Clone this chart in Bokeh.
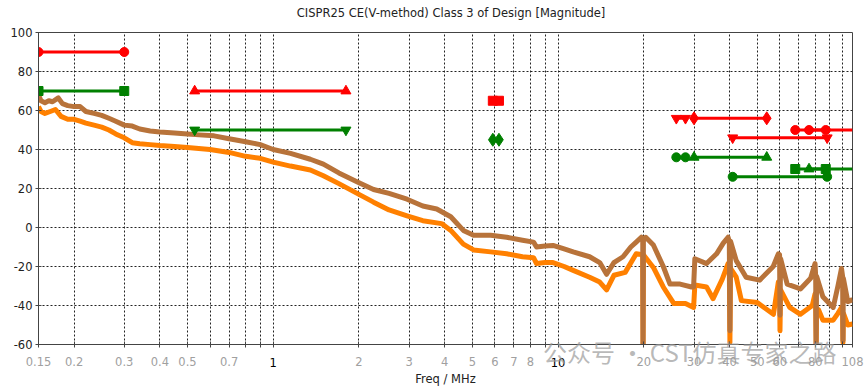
from bokeh.plotting import figure
from bokeh.models import (FixedTicker, ColumnDataSource, Range1d, CustomJSTickFormatter, LogAxis)
from bokeh.embed import file_html
from bokeh.resources import INLINE

title_text = ["CISPR25 CE(V-method) Class 3 of Design [Magnitude]"]
title_pos = [4.21]
x_label = "Freq / MHz"
watermark_text = ["公众号 · CST仿真专家之路"]
watermark_pos = [29.0]

# x ticks (all grid positions) and their labels ("" = unlabeled)
x_ticks = [0.15, 0.2, 0.3, 0.4, 0.5, 0.6, 0.7, 0.8, 0.9, 1, 2, 3, 4, 5, 6, 7, 8, 9,
           10, 20, 30, 40, 50, 60, 70, 80, 90, 100, 108]
x_tick_labels = ["0.15", "0.2", "0.3", "0.4", "0.5", "", "0.7", "", "", "", "2", "3", "4", "5",
                 "6", "7", "8", "", "", "20", "30", "40", "50", "60", "", "80", "", "", "108"]
# decade labels drawn dark
x_dark_pos = [1, 10]
x_dark_labels = ["1", "10"]
y_ticks = [-60, -40, -20, 0, 20, 40, 60, 80, 100]

# Peak (brown) curve
peak_f = [0.150, 0.153, 0.158, 0.163, 0.168, 0.176, 0.182, 0.19, 0.20, 0.21, 0.22, 0.235, 0.25,
          0.265, 0.28, 0.30, 0.32, 0.34, 0.37, 0.40, 0.45, 0.50, 0.55, 0.62, 0.70, 0.80, 0.90,
          1.00, 1.15, 1.35, 1.50, 1.70, 2.00, 2.25, 2.55, 2.95, 3.35, 3.75, 4.20, 4.65, 5.05,
          5.80, 6.60, 7.50, 8.20, 8.40, 9.00, 9.60, 10.5, 11.3, 12.9, 14.0, 14.8, 15.7, 16.9,
          18.0, 18.8, 19.6, 19.82, 19.87, 19.93, 20.3, 21.6, 23.4, 24.7, 26.8, 29.4, 29.9, 30.2,
          33.2, 36.0, 38.0, 39.5, 39.9, 40.1, 40.3, 42.2, 45.7, 51.0, 56.9, 59.3, 59.9, 60.1,
          60.4, 63.7, 70.9, 77.0, 79.8, 80.2, 80.5, 80.8, 85.0, 92.4, 96.0, 98.8, 99.7, 100.0,
          100.3, 104.0, 108.0]
peak_db = [68.0, 65.0, 64.0, 65.0, 64.5, 66.5, 63.5, 62.5, 62.0, 62.0, 59.5, 58.5, 57.5,
           56.0, 54.5, 52.5, 52.0, 50.5, 49.5, 49.0, 48.5, 48.0, 47.5, 47.0, 45.5, 44.0, 42.5,
           40.0, 38.0, 35.0, 32.5, 28.0, 23.0, 19.5, 17.5, 14.5, 11.0, 9.5, 5.5, -1.5, -4.0,
           -4.0, -5.0, -6.5, -7.5, -10.0, -9.5, -9.2, -11.0, -12.5, -15.0, -18.0, -24.0, -18.0, -15.0,
           -10.0, -7.5, -5.0, -6.0, -60.0, -6.0, -5.0, -9.0, -20.0, -29.0, -29.0, -30.5, -30.5, -16.0,
           -18.5, -13.5, -8.0, -5.0, -7.0, -53.0, -7.0, -17.0, -25.5, -27.0, -20.0, -13.5, -14.0, -45.0,
           -16.0, -29.0, -31.5, -26.0, -18.5, -25.0, -60.0, -25.0, -35.5, -41.0, -30.0, -21.0, -25.0, -58.0,
           -26.0, -38.0, -37.0]

# Average (orange) curve
avg_f = [0.150, 0.153, 0.158, 0.165, 0.172, 0.180, 0.19, 0.20, 0.21, 0.22, 0.235, 0.25, 0.265,
         0.28, 0.30, 0.32, 0.34, 0.37, 0.40, 0.45, 0.50, 0.60, 0.70, 0.80, 0.90, 1.00, 1.15,
         1.35, 1.50, 1.70, 2.00, 2.25, 2.55, 2.95, 3.35, 3.90, 4.20, 4.65, 5.05, 5.80, 6.60,
         7.50, 8.20, 8.40, 9.00, 9.60, 10.5, 11.3, 12.9, 14.0, 14.8, 15.7, 17.2, 18.8, 19.82,
         19.87, 19.93, 21.6, 23.4, 25.5, 28.0, 29.9, 30.2, 33.2, 35.0, 37.7, 39.5, 39.9, 40.1,
         40.3, 42.2, 44.0, 50.0, 57.0, 59.3, 59.9, 60.1, 60.4, 65.0, 70.9, 78.0, 79.8, 80.2,
         80.5, 80.8, 82.0, 85.0, 92.4, 96.0, 98.8, 99.7, 100.0, 100.3, 101.0, 104.0, 108.0]
avg_db = [62.0, 59.5, 58.5, 59.5, 60.5, 57.0, 55.5, 55.5, 54.5, 53.5, 52.5, 51.5, 50.0,
          48.0, 46.0, 43.5, 43.0, 42.5, 42.0, 41.5, 41.0, 40.0, 38.5, 36.5, 35.5, 33.5, 31.5,
          29.5, 26.5, 22.5, 17.0, 13.0, 9.0, 6.0, 3.5, 2.0, -1.5, -8.5, -11.5, -12.5, -13.5,
          -15.0, -15.5, -18.5, -18.0, -18.0, -20.0, -22.0, -25.5, -28.0, -32.0, -24.5, -23.0, -13.5, -14.0,
          -60.0, -14.0, -20.5, -30.5, -39.0, -39.0, -41.0, -29.5, -30.5, -36.5, -26.5, -18.5, -20.0, -59.0,
          -21.0, -25.5, -37.5, -38.5, -44.5, -28.0, -30.0, -53.0, -32.0, -41.0, -44.5, -40.0, -34.0, -40.0,
          -60.0, -42.0, -42.0, -47.5, -47.5, -44.0, -41.0, -44.0, -59.0, -44.0, -45.0, -50.0, -49.5]

# CISPR 25 Class 3 limit bands
band_start = [0.15, 0.53, 5.9, 26, 30, 41, 68, 76]
band_stop = [0.30, 1.8, 6.2, 28, 54, 88, 87, 108]
peak_limit = [90, 70, 65, 56, 56, 46, 50, 50]
avg_limit = [70, 50, 45, 36, 36, 26, 30, 30]
peak_marker = ["circle", "triangle", "square", "inverted_triangle", "diamond",
               "inverted_triangle", "circle", "circle"]
avg_marker = ["square", "inverted_triangle", "diamond", "circle", "triangle",
              "circle", "square", "triangle"]

marker_size = {"circle": 9, "square": 9, "triangle": 10, "inverted_triangle": 10, "diamond": 13}

X_MIN, X_MAX = 0.15, 108
FONT = "DejaVu Sans"
FS = "11.5px"

LOOKUP = """
for (let i = 0; i < vals.length; i++) {
  if (Math.abs(vals[i] - tick) < 1e-6 * Math.max(1, Math.abs(tick))) return labs[i];
}
return "";
"""


def label_axis(pos, labels, standoff, **kw):
    return LogAxis(ticker=FixedTicker(ticks=pos),
                   formatter=CustomJSTickFormatter(args=dict(vals=pos, labs=labels), code=LOOKUP),
                   axis_line_color=None, major_tick_line_color=None, minor_tick_line_color=None,
                   major_tick_in=0, major_tick_out=0, major_label_standoff=standoff, **kw)


p = figure(width=865, height=389, x_axis_type="log",
           x_range=Range1d(X_MIN, X_MAX), y_range=Range1d(-60, 100),
           output_backend="svg", toolbar_location=None,
           min_border_left=38, min_border_right=13, min_border_top=32, min_border_bottom=45)
p.background_fill_color = "white"
p.border_fill_color = "white"
p.outline_line_color = "#444444"
p.outline_line_width = 1

# main axes (grab them before any extra axes are added)
ax1 = p.below[0]
ay = p.left[0]
ax1.ticker = FixedTicker(ticks=x_ticks)
ax1.formatter = CustomJSTickFormatter(args=dict(vals=x_ticks, labs=x_tick_labels), code=LOOKUP)
ay.ticker = FixedTicker(ticks=y_ticks)
ay.formatter = CustomJSTickFormatter(code="return tick.toFixed(0);")
for ax in (ax1, ay):
    ax.axis_line_color = "#444444"
    ax.major_tick_line_color = "#444444"
    ax.major_tick_in = 3
    ax.major_tick_out = 3
    ax.minor_tick_line_color = None
    ax.major_label_text_font = FONT
    ax.major_label_text_font_size = FS
ay.major_label_standoff = 3
ax1.major_label_standoff = 9
ax1.major_label_text_color = "#a0a0a0"
ay.major_label_text_color = "#222222"

# chart title, as a label row above the frame
p.add_layout(label_axis(title_pos, title_text, 13, major_label_text_font=FONT,
                        major_label_text_font_size=FS, major_label_text_color="#222222"), "above")

# dark decade labels, on the same row as the grey ones
p.add_layout(label_axis(x_dark_pos, x_dark_labels, -11, major_label_text_font=FONT,
                        major_label_text_font_size=FS, major_label_text_color="#000000"), "below")

# watermark row + axis title
p.add_layout(label_axis(watermark_pos, watermark_text, -36,
                        major_label_text_font="Noto Sans CJK SC", major_label_text_font_size="24px",
                        major_label_text_color="#9a9a9a", major_label_text_alpha=0.7,
                        axis_label=x_label, axis_label_standoff=0, axis_label_text_font=FONT,
                        axis_label_text_font_size=FS, axis_label_text_font_style="normal",
                        axis_label_text_color="#222222"), "below")

for g in (p.xgrid[0], p.ygrid[0]):
    g.grid_line_color = "#222222"
    g.grid_line_dash = "2 2"
    g.grid_line_width = 1
p.ygrid[0].ticker = FixedTicker(ticks=y_ticks)
p.xgrid[0].ticker = FixedTicker(ticks=x_ticks)

# measured curves
p.line(avg_f, avg_db, line_color="#ff8000", line_width=5, line_join="round")
p.line(peak_f, peak_db, line_color="#b8733a", line_width=5, line_join="round")

# limit lines
p.segment(x0=band_start, y0=peak_limit, x1=band_stop, y1=peak_limit, line_color="#ff0000", line_width=3)
p.segment(x0=band_start, y0=avg_limit, x1=band_stop, y1=avg_limit, line_color="#008000", line_width=3)


def marker_source(levels, markers):
    xs, ys, ms, ss = [], [], [], []
    for xv, yv, m in zip(band_start + band_stop, levels + levels, markers + markers):
        if xv < X_MAX:  # end markers on the right plot edge are not drawn
            xs.append(xv); ys.append(yv); ms.append(m); ss.append(marker_size[m])
    return ColumnDataSource(dict(x=xs, y=ys, m=ms, s=ss))


p.scatter("x", "y", marker="m", size="s", source=marker_source(peak_limit, peak_marker),
          fill_color="#ff0000", line_color="#ff0000")
p.scatter("x", "y", marker="m", size="s", source=marker_source(avg_limit, avg_marker),
          fill_color="#008000", line_color="#008000")

open("out.html", "w").write(file_html(p, INLINE))
